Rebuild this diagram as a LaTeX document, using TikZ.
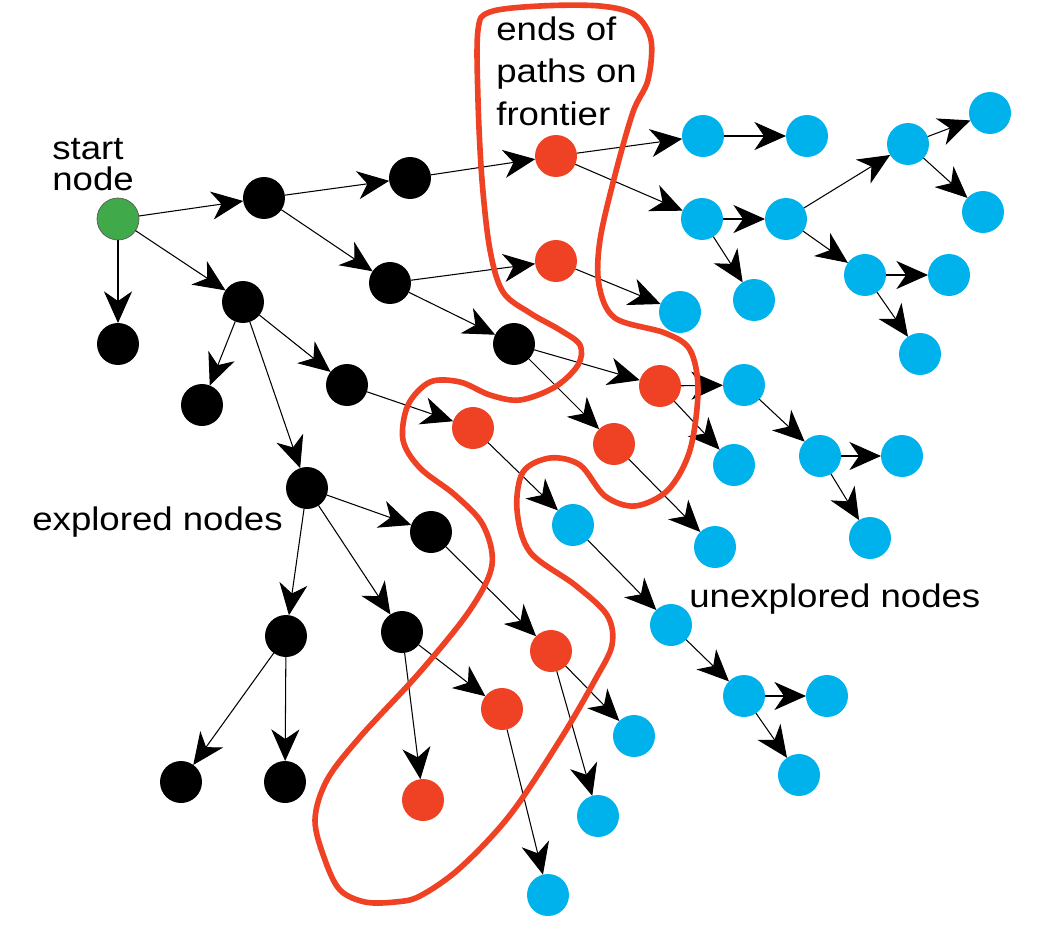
\documentclass[tikz,border=0pt]{standalone}
\usepackage{fontspec}
\setmainfont{Liberation Sans}[FakeStretch=1.12]
\usetikzlibrary{arrows.meta}
\definecolor{exploredcol}{RGB}{0,0,0}
\definecolor{frontiercol}{RGB}{239,65,36}
\definecolor{unexploredcol}{RGB}{0,178,235}
\definecolor{startcol}{RGB}{64,169,74}
\tikzset{state/.style={circle,minimum size=0.84cm,inner sep=0pt,outer sep=0pt},
 explored/.style={state,fill=exploredcol},
 frontier/.style={state,fill=frontiercol},
 unexplored/.style={state,fill=unexploredcol},
 startstate/.style={state,fill=startcol,draw=black!65,line width=0.4pt},
 edge/.style={-{Stealth[length=18pt,width=16pt,inset=5.5pt]},line width=0.6pt},
 boundary/.style={frontiercol,line width=3.2pt},
 every node/.style={font=\fontsize{18.6}{18.6}\selectfont}}

\begin{document}
\begin{tikzpicture}[x=0.02cm,y=-0.02cm]
\useasboundingbox (0,0) rectangle (1038,930);
% start node
\node[startstate] (s) at (118,219) {};
% explored nodes
\node[explored] (x1) at (264,198) {};
\node[explored] (x2) at (118,344) {};
\node[explored] (x3) at (243,302) {};
\node[explored] (x4) at (410,178) {};
\node[explored] (x5) at (390,283) {};
\node[explored] (x6) at (514,344) {};
\node[explored] (x7) at (202,405) {};
\node[explored] (x8) at (347,385) {};
\node[explored] (x9) at (307,488) {};
\node[explored] (x10) at (431,532) {};
\node[explored] (x11) at (286,636) {};
\node[explored] (x12) at (402,632) {};
\node[explored] (x13) at (181,782) {};
\node[explored] (x14) at (285,782) {};
% frontier
\node[frontier] (f1) at (556,156) {};
\node[frontier] (f2) at (556,261) {};
\node[frontier] (f3) at (473,428) {};
\node[frontier] (f4) at (660,386) {};
\node[frontier] (f5) at (614,444) {};
\node[frontier] (f6) at (551,651) {};
\node[frontier] (f7) at (502,709) {};
\node[frontier] (f8) at (423,800) {};
% unexplored nodes
\node[unexplored] (u1) at (703,136) {};
\node[unexplored] (u2) at (807,136) {};
\node[unexplored] (u3) at (702,219) {};
\node[unexplored] (u4) at (786,219) {};
\node[unexplored] (u5) at (908,144) {};
\node[unexplored] (u6) at (990,113) {};
\node[unexplored] (u7) at (983,212) {};
\node[unexplored] (u8) at (754,300) {};
\node[unexplored] (u9) at (865,275) {};
\node[unexplored] (u10) at (949,275) {};
\node[unexplored] (u11) at (920,354) {};
\node[unexplored] (u12) at (680,312) {};
\node[unexplored] (u13) at (744,385) {};
\node[unexplored] (u14) at (734,465) {};
\node[unexplored] (u15) at (820,456) {};
\node[unexplored] (u16) at (902,456) {};
\node[unexplored] (u17) at (870,538) {};
\node[unexplored] (u18) at (715,547) {};
\node[unexplored] (u19) at (573,525) {};
\node[unexplored] (u20) at (671,625) {};
\node[unexplored] (u21) at (744,696) {};
\node[unexplored] (u22) at (827,696) {};
\node[unexplored] (u23) at (799,775) {};
\node[unexplored] (u24) at (634,736) {};
\node[unexplored] (u25) at (598,816) {};
\node[unexplored] (u26) at (548,895) {};
% arcs
\foreach \a/\b in {s/x1,s/x2,s/x3,x1/x4,x1/x5,x4/f1,x5/f2,x5/x6,x3/x7,x3/x8,x3/x9,
  x8/f3,x6/f4,x6/f5,f1/u1,f1/u3,u1/u2,u3/u4,u3/u8,u4/u5,u4/u9,u5/u6,u5/u7,
  u9/u10,u9/u11,f2/u12,f4/u13,f4/u14,u13/u15,u15/u16,u15/u17,f5/u18,f3/u19,
  u19/u20,u20/u21,u21/u22,u21/u23,x9/x10,x9/x11,x9/x12,x11/x13,x11/x14,
  x10/f6,x12/f7,x12/f8,f6/u24,f6/u25,f7/u26}
  \draw[edge] (\a) -- (\b);
% frontier boundary
\draw[boundary] plot[smooth cycle,tension=0.55] coordinates {(478,30) (490,12)
  (540,6) (600,6) (635,15) (651,40) (648,80) (633,112) (615,175) (600,240)
  (599,285) (615,318) (665,333) (690,350) (698,390) (690,450) (668,490)
  (635,506) (605,496) (580,465) (550,458) (523,472) (517,510) (530,552)
  (575,585) (607,615) (612,645) (595,680) (560,740) (510,815) (460,868)
  (420,896) (395,902) (365,902) (340,890) (325,860) (315,820) (327,780)
  (360,737) (420,672) (470,610) (492,565) (483,525) (455,495) (420,468)
  (403,440) (408,405) (430,382) (460,382) (490,395) (520,400) (555,387)
  (578,365) (580,345) (560,330) (530,313) (503,292) (490,250) (482,180)
  (478,100)};
% labels
\node[anchor=base west,inner sep=0pt,align=left,
  font=\fontsize{18.6}{17.4pt}\selectfont] (startlbl) at (52,190) {start\\node};
\node[anchor=base west,inner sep=0pt,align=left,
  font=\fontsize{18.6}{24pt}\selectfont] (endslbl) at (496,125) {ends of\\paths on\\frontier};
\node[anchor=base west,inner sep=0pt] (explbl) at (32,530) {explored nodes};
\node[anchor=base west,inner sep=0pt] (unexplbl) at (689,607) {unexplored nodes};
\end{tikzpicture}
\end{document}
